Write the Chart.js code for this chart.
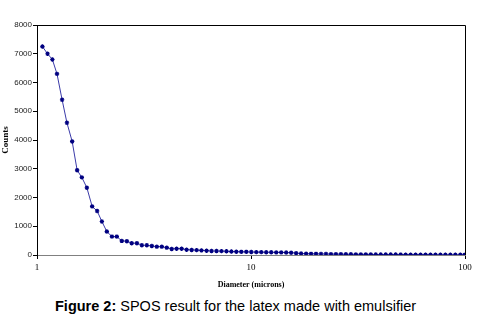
<!DOCTYPE html>
<html>
<head>
<meta charset="utf-8">
<script src="https://cdn.jsdelivr.net/npm/chart.js@4"></script>
<style>
  body { margin: 0; background: #fff; width: 488px; height: 329px; position: relative; overflow: hidden; }
  #wrap { position: absolute; left: 0; top: 0; width: 488px; height: 296px; }
  #caption { position: absolute; left: 55px; top: 298px; font: 14.5px "Liberation Sans", Arial, sans-serif; line-height: 16px; color: #000; white-space: nowrap; }
</style>
</head>
<body>
<div id="wrap"><canvas id="myChart" width="488" height="296"></canvas></div>
<div id="caption"><b>Figure 2:</b> SPOS result for the latex made with emulsifier</div>
<script>
// particle diameter (microns)
const diameters = [
  1.06, 1.12, 1.18, 1.24, 1.31, 1.38, 1.46, 1.54, 1.62, 1.71,
  1.81, 1.91, 2.01, 2.12, 2.24, 2.36, 2.49, 2.63, 2.77, 2.93,
  3.09, 3.26, 3.44, 3.63, 3.83, 4.04, 4.26, 4.49, 4.74, 5.00,
  5.28, 5.57, 5.87, 6.20, 6.54, 6.90, 7.28, 7.68, 8.10, 8.54,
  9.01, 9.51, 10.03, 10.59, 11.17, 11.78, 12.43, 13.12, 13.84, 14.60,
  15.40, 16.25, 17.14, 18.09, 19.08, 20.13, 21.24, 22.41, 23.64, 24.94,
  26.31, 27.76, 29.29, 30.90, 32.60, 34.39, 36.28, 38.28, 40.38, 42.61,
  44.95, 47.42, 50.03, 52.78, 55.69, 58.75, 61.98, 65.39, 68.98, 72.78,
  76.78, 81.00, 85.46, 90.16, 95.12, 99.6
];
const counts = [
  7250, 7000, 6800, 6300, 5400, 4600, 3950, 2950, 2700, 2340,
  1690, 1530, 1165, 815, 640, 640, 490, 480, 410, 410,
  340, 340, 315, 290, 290, 255, 210, 220, 220, 185,
  175, 170, 160, 150, 140, 140, 135, 130, 120, 115,
  110, 110, 105, 100, 100, 95, 95, 90, 90, 85,
  80, 65, 50, 45, 40, 40, 35, 35, 30, 28,
  27, 25, 24, 22, 21, 20, 19, 18, 17, 16,
  15, 15, 14, 13, 12, 12, 11, 10, 10, 9,
  9, 8, 8, 7, 7, 6
];
const xTicks = [1, 10, 100];

const points = diameters.map((d, i) => ({ x: d, y: counts[i] }));

// black frame on top and right like the excel plot area
const frame = {
  id: "frame",
  afterDraw(chart) {
    const a = chart.chartArea, c = chart.ctx;
    c.save();
    c.strokeStyle = "#000";
    c.lineWidth = 1;
    c.beginPath();
    c.moveTo(a.left, a.top + 0.5);
    c.lineTo(a.right + 0.5, a.top + 0.5);
    c.lineTo(a.right + 0.5, a.bottom);
    c.stroke();
    c.restore();
  },
};

var ctx = document.getElementById("myChart").getContext("2d");
const myChart = new Chart(ctx, {
  type: "line",
  data: {
    datasets: [
      {
        label: "Counts",
        data: points,
        borderColor: "#3a3aa8",
        borderWidth: 1,
        pointStyle: "star",
        pointRadius: 2.2,
        pointBorderColor: "#000080",
        pointBackgroundColor: "#000080",
        pointBorderWidth: 1.2,
        fill: false,
        tension: 0,
      },
    ],
  },
  options: {
    responsive: false,
    animation: false,
    layout: { padding: { top: 25, right: 23, left: 0, bottom: 0 } },
    plugins: { legend: { display: false }, tooltip: { enabled: false } },
    scales: {
      x: {
        type: "logarithmic",
        min: 1,
        max: 100,
        afterBuildTicks: (s) => { s.ticks = xTicks.map((v) => ({ value: v })); },
        afterFit: (s) => { s.height = 41; },
        grid: { drawOnChartArea: false, tickLength: 4, color: "#000" },
        border: { color: "#808080", width: 1 },
        ticks: {
          autoSkip: false,
          maxRotation: 0,
          padding: 3,
          color: "#000",
          font: { family: "Liberation Serif", size: 9 },
          callback: (v) => String(v),
        },
        title: {
          display: true,
          text: "Diameter (microns)",
          color: "#000",
          padding: { top: 0, bottom: 6 },
          font: { family: "Liberation Serif", size: 8, weight: "bold" },
        },
      },
      y: {
        min: 0,
        max: 8000,
        afterFit: (s) => { s.width = 37; },
        grid: { drawOnChartArea: false, tickLength: 4, color: "#000" },
        border: { color: "#000", width: 1 },
        ticks: {
          stepSize: 1000,
          padding: 1,
          color: "#222",
          font: { family: "Liberation Sans", size: 8 },
          callback: (v) => String(v),
        },
        title: {
          display: true,
          text: "Counts",
          color: "#000",
          padding: 0,
          font: { family: "Liberation Serif", size: 9, weight: "bold" },
        },
      },
    },
  },
  plugins: [frame],
});
</script>
</body>
</html>
